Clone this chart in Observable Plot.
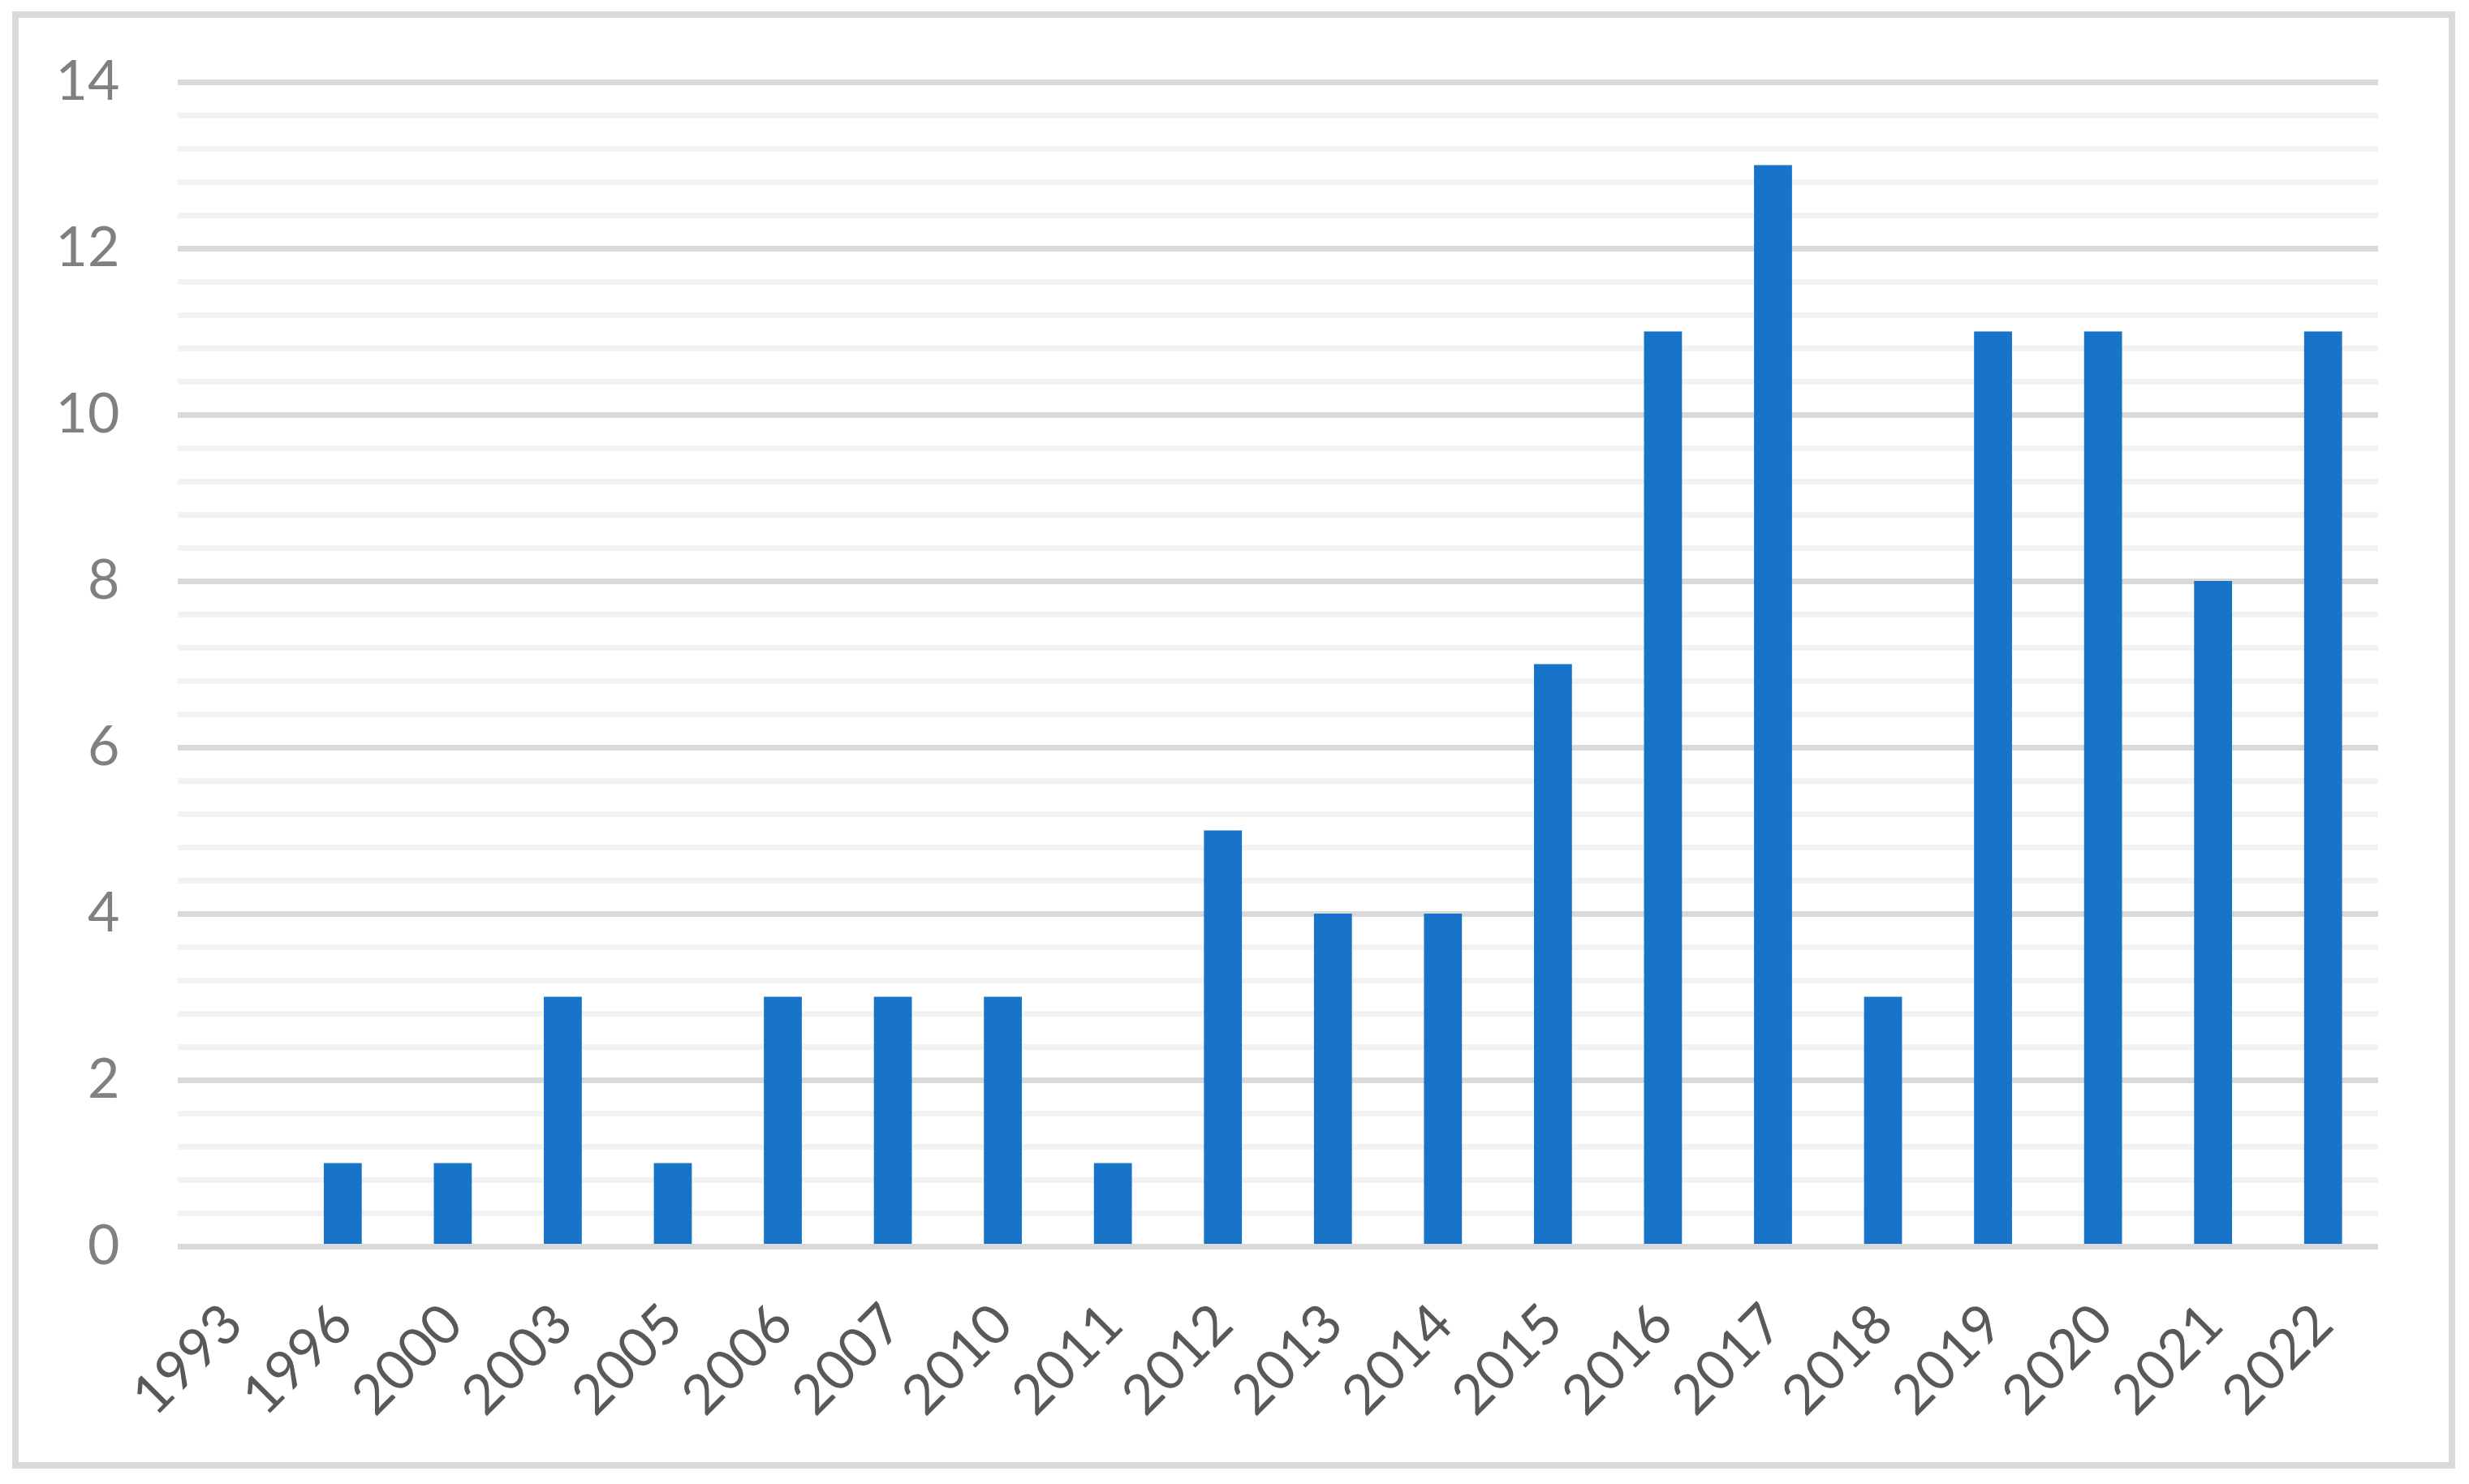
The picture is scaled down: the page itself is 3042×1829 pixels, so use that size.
<!DOCTYPE html>
<html>
<head>
<meta charset="utf-8">
<script src="https://cdn.jsdelivr.net/npm/d3@7"></script>
<script src="https://cdn.jsdelivr.net/npm/@observablehq/plot@0.6"></script>
<style>
  html, body { margin: 0; padding: 0; background: white; }
  #wrap { position: relative; width: 3042px; height: 1829px; }
  #frame { position: absolute; left: 15px; top: 14px; width: 3010px; height: 1796px;
           box-sizing: border-box; border: 8px solid #d9d9d9; pointer-events: none; }
  #chart { position: absolute; left: 0; top: 0; }
</style>
</head>
<body>
<div id="wrap"><div id="chart"></div><div id="frame"></div></div>
<script>
const years = ["1993","1996","2000","2003","2005","2006","2007","2010","2011","2012",
               "2013","2014","2015","2016","2017","2018","2019","2020","2021","2022"];
const counts = [0,1,1,3,1,3,3,3,1,5,4,4,7,11,13,3,11,11,8,11];
const yMajorTicks = [0,2,4,6,8,10,12,14];
const yMinorStep = 0.4;

const data = years.map((year, i) => ({year, count: counts[i]}));
const yMinorTicks = d3.range(0, 14 + 1e-9, yMinorStep)
  .filter(v => !yMajorTicks.some(m => Math.abs(m - v) < 1e-6));

const chart = Plot.plot({
  width: 3042,
  height: 1829,
  marginLeft: 219,
  marginRight: 112,
  marginTop: 101,
  marginBottom: 293,
  style: {background: "transparent", fontFamily: "Lato, 'Open Sans', sans-serif", fontSize: "68px"},
  x: {domain: years, paddingInner: 0.655, paddingOuter: 0.3275, round: false, label: null},
  y: {domain: [0, 14], label: null},
  marks: [
    Plot.ruleY(yMinorTicks, {stroke: "#f2f2f2", strokeWidth: 7}),
    Plot.ruleY(yMajorTicks.filter(d => d > 0), {stroke: "#d9d9d9", strokeWidth: 7}),
    Plot.barY(data, {x: "year", y: "count", fill: "#1874c8"}),
    Plot.ruleY([0], {stroke: "#d9d9d9", strokeWidth: 7}),
    Plot.axisY(yMajorTicks, {tickSize: 0, tickPadding: 72, tickFormat: d => String(d), color: "#808080", fontSize: 68, label: null}),
    Plot.axisX({tickSize: 0, tickRotate: -45, tickPadding: 84, color: "#595959", fontSize: 68, label: null})
  ]
});
document.getElementById("chart").appendChild(chart);
</script>
</body>
</html>
